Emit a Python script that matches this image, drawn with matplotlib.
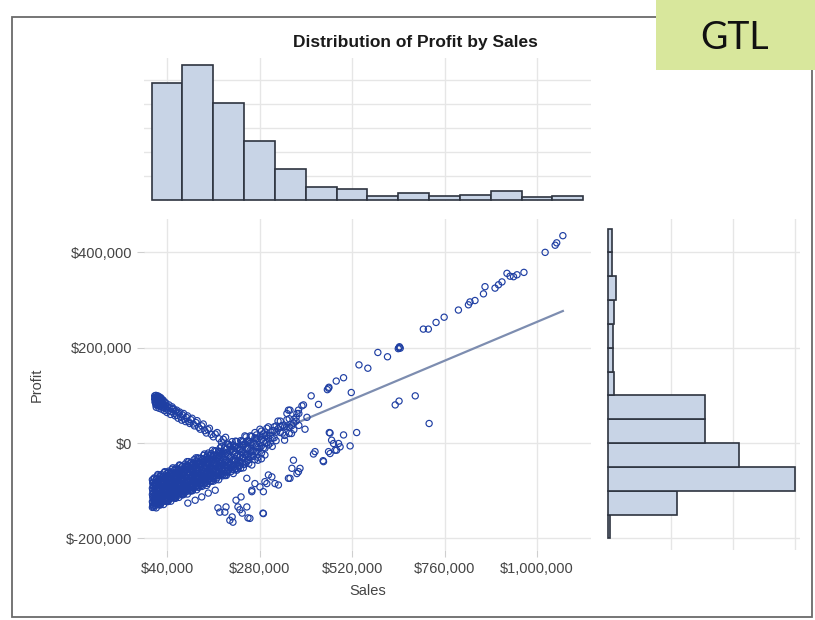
import numpy as np
import matplotlib
matplotlib.use("Agg")
import matplotlib.pyplot as plt
from matplotlib.patches import Rectangle
from matplotlib.ticker import FuncFormatter

plt.rcParams['font.family'] = ['Liberation Sans', 'DejaVu Sans']

# ---------------- data (sales / profit in $ thousands) ----------------
# declining arm of small-sales, positive-profit orders
arm_sales = [8, 9, 10, 11, 12, 13, 14, 15, 16, 17, 18, 19, 20, 21, 23, 24, 25, 27, 28, 30,
             32, 35, 38, 41, 44, 47, 50, 54, 58, 62, 66, 70, 75, 80, 85, 90, 96, 102, 108, 115,
             122, 130, 138, 146, 155, 165, 175, 186, 198,
             9, 12, 15, 19, 22, 26, 29, 33, 37, 40, 45, 49, 53, 57, 61, 65, 69, 73, 78, 83,
             88, 93, 99, 105, 111, 118, 126, 134, 142, 150, 160, 170, 181, 192, 205,
             8, 10, 11, 13, 14, 16, 18, 20, 21, 24, 26, 28, 30, 34, 36]
arm_profit = [92, 86, 85, 80, 90, 82, 93, 88, 79, 83, 86, 91, 80, 87, 77, 89, 84, 86, 76, 82,
              74, 79, 72, 77, 68, 74, 66, 71, 62, 67, 58, 63, 55, 59, 50, 54, 45, 49, 40, 43,
              33, 36, 26, 28, 18, 19, 9, 8, -2,
              96, 75, 95, 73, 94, 71, 89, 68, 84, 64, 80, 60, 76, 72, 57, 69, 52, 65, 48, 62,
              45, 57, 41, 52, 36, 47, 29, 40, 21, 31, 13, 22, 2, 12, -5,
              99, 94, 100, 97, 84, 99, 94, 97, 78, 95, 92, 81, 90, 86, 75]

# dense main band: (sales, profits observed at that sales level)
band_rows = [
    (2, [-77, -95, -108, -123, -135]),
    (3, [-84, -100, -113, -126, -132]),
    (4, [-82, -90, -105, -116, -130]),
    (6, [-75, -90, -105, -119, -135]),
    (7, [-73, -98, -111, -126]),
    (9, [-84, -100, -117, -122, -131]),
    (10, [-91, -107, -119, -126]),
    (12, [-76, -89, -107, -118, -136]),
    (13, [-76, -84, -99, -111, -121]),
    (15, [-69, -80, -93, -110, -127]),
    (16, [-66, -82, -106, -125]),
    (17, [-84, -102, -112, -123, -129]),
    (19, [-78, -94, -107, -120, -126]),
    (20, [-71, -89, -102, -117, -129]),
    (22, [-75, -83, -98, -109, -123, -130]),
    (23, [-69, -84, -99, -113, -129]),
    (25, [-66, -91, -104, -119]),
    (26, [-86, -102, -114, -121]),
    (27, [-77, -93, -110, -115, -124]),
    (29, [-71, -79, -94, -106, -116]),
    (31, [-69, -82, -100, -111, -129]),
    (33, [-62, -73, -86, -103, -120]),
    (34, [-60, -76, -100, -119]),
    (36, [-77, -95, -105, -116, -122]),
    (37, [-72, -88, -101, -114, -120]),
    (39, [-64, -82, -95, -110, -122]),
    (41, [-68, -76, -91, -102, -116, -123]),
    (43, [-62, -77, -92, -106, -122]),
    (44, [-59, -84, -97, -112]),
    (46, [-78, -94, -106, -113]),
    (48, [-70, -86, -103, -108, -117]),
    (50, [-62, -75, -93, -104, -122]),
    (51, [-63, -71, -86, -98, -108]),
    (53, [-55, -66, -79, -96, -113]),
    (55, [-52, -68, -92, -111]),
    (56, [-70, -88, -98, -109, -115]),
    (58, [-64, -80, -93, -106, -112]),
    (59, [-57, -75, -88, -103, -115]),
    (61, [-55, -70, -85, -99, -115]),
    (62, [-61, -69, -84, -95, -109, -116]),
    (64, [-52, -77, -90, -105]),
    (66, [-71, -87, -99, -106]),
    (68, [-63, -79, -96, -101, -110]),
    (69, [-56, -64, -79, -91, -101]),
    (71, [-54, -67, -85, -96, -114]),
    (72, [-46, -62, -86, -105]),
    (74, [-47, -58, -71, -88, -105]),
    (76, [-58, -74, -87, -100, -106]),
    (77, [-62, -80, -90, -101, -107]),
    (79, [-49, -64, -79, -93, -109]),
    (80, [-49, -67, -80, -95, -107]),
    (83, [-53, -61, -76, -87, -101, -108]),
    (85, [-64, -80, -92, -99]),
    (87, [-44, -69, -82, -97]),
    (88, [-49, -57, -72, -84, -94]),
    (90, [-55, -71, -88, -93, -102]),
    (92, [-39, -55, -79, -98]),
    (93, [-47, -60, -78, -89, -107]),
    (95, [-51, -67, -80, -93, -99]),
    (96, [-39, -50, -63, -80, -97]),
    (99, [-54, -72, -82, -93, -99]),
    (101, [-41, -56, -71, -85, -101]),
    (103, [-41, -59, -72, -87, -99]),
    (105, [-57, -73, -85, -92]),
    (106, [-45, -53, -68, -79, -93, -100]),
    (108, [-42, -50, -65, -77, -87]),
    (110, [-35, -60, -73, -88]),
    (113, [-46, -62, -79, -84, -93]),
    (115, [-31, -47, -71, -90]),
    (117, [-38, -51, -69, -80, -98]),
    (119, [-42, -58, -71, -84, -90]),
    (120, [-31, -42, -55, -72, -89]),
    (122, [-33, -48, -63, -77, -93]),
    (124, [-45, -63, -73, -84, -90]),
    (126, [-50, -66, -78, -85]),
    (128, [-32, -50, -63, -78, -90]),
    (131, [-36, -44, -59, -70, -84, -91]),
    (133, [-33, -41, -56, -68, -78]),
    (135, [-26, -51, -64, -79]),
    (137, [-23, -39, -63, -82]),
    (139, [-37, -53, -70, -75, -84]),
    (141, [-34, -50, -63, -76, -82]),
    (143, [-29, -42, -60, -71, -89]),
    (145, [-25, -40, -55, -69, -85]),
    (147, [-21, -32, -45, -62, -79]),
    (149, [-41, -57, -69, -76]),
    (151, [-36, -54, -64, -75, -81]),
    (153, [-26, -34, -49, -61, -71]),
    (155, [-22, -40, -53, -68, -80]),
    (158, [-15, -31, -55, -74]),
    (160, [-25, -33, -48, -59, -73, -80]),
    (162, [-27, -43, -56, -69, -75]),
    (164, [-16, -41, -54, -69]),
    (167, [-17, -32, -47, -61, -77]),
    (169, [-26, -42, -59, -64, -73]),
    (171, [-33, -49, -61, -68]),
    (174, [-17, -30, -48, -59, -77]),
    (176, [-18, -26, -41, -53, -63]),
    (178, [-10, -21, -34, -51, -68]),
    (181, [-7, -23, -47, -66]),
    (183, [-24, -42, -52, -63, -69]),
    (186, [-18, -34, -47, -60, -66]),
    (189, [-10, -28, -41, -56, -68]),
    (191, [-8, -23, -38, -52, -68]),
    (194, [-13, -21, -36, -47, -61, -68]),
    (197, [-24, -40, -52, -59]),
    (200, [-3, -28, -41, -56]),
    (203, [-8, -16, -31, -43, -53]),
    (206, [-13, -29, -46, -51, -60]),
    (209, [3, -13, -37, -56]),
    (212, [-4, -17, -35, -46, -64]),
    (215, [-8, -24, -37, -50, -56]),
    (218, [4, -7, -20, -37, -54]),
    (221, [3, -12, -27, -41, -57]),
    (224, [-9, -27, -37, -48, -54]),
    (228, [-13, -29, -41, -48]),
    (231, [5, -13, -26, -41, -53]),
    (235, [4, -4, -19, -31, -41]),
    (238, [3, -5, -20, -31, -45, -52]),
    (242, [15, -1, -25, -44]),
    (245, [13, -12, -25, -40]),
    (249, [5, -11, -24, -37]),
    (252, [4, -12, -29, -34, -43]),
    (256, [15, 0, -15, -29]),
    (260, [14, 1, -17, -28, -46]),
    (264, [0, -16, -28]),
    (268, [22, 11, -2, -18, -35]),
    (272, [17, 9, -6, -18]),
    (276, [9, -9, -19, -30, -36]),
    (281, [29, 13, -11]),
    (285, [25, 7, -6, -21, -33]),
    (290, [19, 3, -10]),
    (294, [23, 15, 0, -11, -25]),
    (299, [31, 16, 1]),
    (303, [34, 9, -4]),
    (308, [16, 0]),
    (313, [26, 10, -7]),
    (318, [34, 26, 11]),
    (323, [36, 23, 5]),
    (328, [46, 30]),
    (334, [46, 35, 22]),
    (340, [37, 21]),
    (345, [34, 16, 6]),
    (351, [49, 34]),
    (357, [51, 33, 20]),
    (363, [36, 20]),
    (369, [50, 42, 28]),
    (375, [54, 46]),
    (382, [62, 37]),
]

# loss-making orders below the band
low_sales = [94, 113, 130, 147, 165, 172, 190, 209, 211, 224, 235, 177, 203, 229, 250, 289,
             219, 232, 193, 247, 255, 290, 260]
low_profit = [-126, -120, -113, -105, -99, -136, -145, -155, -166, -134, -147, -145, -162,
              -140, -157, -147, -120, -113, -134, -134, -158, -148, -102]

mid_sales = [247, 268, 290, 299, 312, 329, 355, 377, 385, 368, 364, 381, 359, 281, 294, 303,
             320, 260]
mid_profit = [-74, -85, -102, -85, -71, -88, -74, -64, -53, -36, -53, -60, -74, -92, -81,
              -67, -85, -99]

cluster_sales = [461, 472, 498, 532, 515, 489, 463, 480, 424, 420, 446, 463, 467, 485, 476,
                 459, 445]
cluster_profit = [22, -1, 17, 22, -6, -8, -22, -15, -18, -23, -39, 21, 6, -1, -15, -18, -37]

# large orders on the upper trend
up_sales = [394, 381, 359, 351, 355, 377, 390, 398, 403, 414, 433, 456, 459, 460, 479, 498,
            518, 538, 561, 587, 612, 640, 642, 643, 645, 632, 642, 684, 720, 705, 718, 738,
            759, 796, 822, 826, 839, 861, 865, 891, 900, 909, 922, 930, 939, 948, 966, 1021,
            1047, 1051, 1067]
up_profit = [80, 69, 69, 62, 69, 62, 78, 29, 54, 99, 81, 112, 115, 117, 130, 137, 106, 164,
             157, 190, 181, 198, 200, 202, 199, 80, 88, 99, 41, 239, 239, 253, 264, 279, 290,
             296, 299, 313, 328, 325, 332, 338, 356, 350, 349, 353, 358, 400, 415, 420, 435]

# regression line end points
fit_sales = [5, 1067]
fit_profit = [-84, 277]

# sales histogram: bin edges ($K) and percent of orders
sales_bin_edges = [0, 80, 160, 240, 320, 400, 480, 560, 640, 720, 800, 880, 960, 1040, 1120]
sales_pct = [24.4, 28.2, 20.3, 12.4, 6.5, 2.8, 2.3, 0.9, 1.5, 0.9, 1.0, 1.8, 0.6, 0.9]

# profit histogram: bin edges ($K) and percent of orders
profit_bin_edges = [-200, -150, -100, -50, 0, 50, 100, 150, 200, 250, 300, 350, 400, 450]
profit_pct = [0.2, 11.0, 30.0, 21.0, 15.5, 15.5, 0.9, 0.8, 0.7, 0.9, 1.3, 0.65, 0.65]

x_ticks = [40, 280, 520, 760, 1000]
y_ticks = [-200, 0, 200, 400]
title = "Distribution of Profit by Sales"

# ---------------- assemble points ----------------
band_sales = [s for s, ps in band_rows for _ in ps]
band_profit = [p for _, ps in band_rows for p in ps]
sales = np.array(arm_sales + band_sales + low_sales + mid_sales + cluster_sales + up_sales) * 1000.0
profit = np.array(arm_profit + band_profit + low_profit + mid_profit + cluster_profit + up_profit) * 1000.0

W, H = 815, 620
fig = plt.figure(figsize=(W / 100, H / 100), dpi=100)


def box(x0, y0, x1, y1):
    """figure-fraction rect from pixel corners (top-left origin)"""
    return [x0 / W, 1 - y1 / H, (x1 - x0) / W, (y1 - y0) / H]


GRID = '#e6e6e6'
TICKC = '#444444'
FILL = '#c8d4e6'
EDGE = '#2e3440'
PT = '#1f3fa3'

xlim = (-20000, 1140000)
ylim = (-225000, 470000)

ax = fig.add_axes(box(143.9, 219, 591, 550.3))
ax_top = fig.add_axes(box(143.9, 58, 591, 201))
ax_right = fig.add_axes(box(607, 219, 800, 550.3))

# main scatter, fit line drawn beneath the markers
ax.plot(np.array(fit_sales) * 1000, np.array(fit_profit) * 1000, color='#7d8db0', lw=1.6, zorder=2)
ax.scatter(sales, profit, s=20, facecolors='none', edgecolors=PT, linewidths=0.85, zorder=3)
ax.set_xlim(*xlim)
ax.set_ylim(*ylim)
ax.set_xticks([t * 1000 for t in x_ticks])
ax.set_yticks([t * 1000 for t in y_ticks])
ax.xaxis.set_major_formatter(FuncFormatter(lambda v, p: f"${v:,.0f}"))
ax.yaxis.set_major_formatter(FuncFormatter(lambda v, p: f"${v:,.0f}"))
ax.grid(True, color=GRID, lw=1.0, zorder=0)
ax.set_axisbelow(True)
for sp in ax.spines.values():
    sp.set_visible(False)
ax.tick_params(axis='both', colors='#cfcfcf', labelcolor=TICKC, labelsize=10.5, length=5, width=0.8)
ax.set_xlabel("Sales", fontsize=10.5, color=TICKC, labelpad=6)
ax.set_ylabel("Profit", fontsize=10.5, color=TICKC, labelpad=16)

# sales histogram on top
ax_top.bar(np.array(sales_bin_edges[:-1]) * 1000, sales_pct, width=80000, align='edge',
           color=FILL, edgecolor=EDGE, linewidth=1.2, zorder=3)
ax_top.set_xlim(*xlim)
ax_top.set_ylim(-0.21, 29.6)
ax_top.set_xticks([t * 1000 for t in x_ticks])
ax_top.set_yticks([5, 10, 15, 20, 25])
ax_top.grid(True, color=GRID, lw=1.0, zorder=0)
ax_top.set_axisbelow(True)
ax_top.tick_params(left=False, bottom=False, labelleft=False, labelbottom=False)
for sp in ax_top.spines.values():
    sp.set_visible(False)

# profit histogram on the right
ax_right.barh(np.array(profit_bin_edges[:-1]) * 1000, profit_pct, height=50000, align='edge',
              color=FILL, edgecolor=EDGE, linewidth=1.2, zorder=3)
ax_right.set_ylim(*ylim)
ax_right.set_xlim(-0.21, 30.75)
ax_right.set_yticks([t * 1000 for t in y_ticks])
ax_right.set_xticks([10, 20, 30])
ax_right.grid(True, color=GRID, lw=1.0, zorder=0)
ax_right.set_axisbelow(True)
ax_right.tick_params(left=False, bottom=False, labelleft=False, labelbottom=False)
for sp in ax_right.spines.values():
    sp.set_visible(False)

# title
fig.text(415 / W, 1 - 42 / H, title, ha='center', va='center', fontsize=12.5,
         fontweight='bold', color='#1a1a1a')

# outer frame
fig.patches.append(Rectangle((12 / W, 1 - 617 / H), 800 / W, 600 / H, transform=fig.transFigure,
                             fill=False, edgecolor='#6a6a6a', lw=1.3, zorder=1))

# tag box
fig.patches.append(Rectangle((656 / W, 1 - 70 / H), 159 / W, 70 / H, transform=fig.transFigure,
                             facecolor='#d8e79c', edgecolor='none', zorder=5))
fig.text(735 / W, 1 - 38 / H, "GTL", ha='center', va='center', fontsize=27,
         family=['Liberation Sans Narrow', 'Lato', 'DejaVu Sans'], color='#111111', zorder=6)

fig.savefig("out.png", dpi=100)
